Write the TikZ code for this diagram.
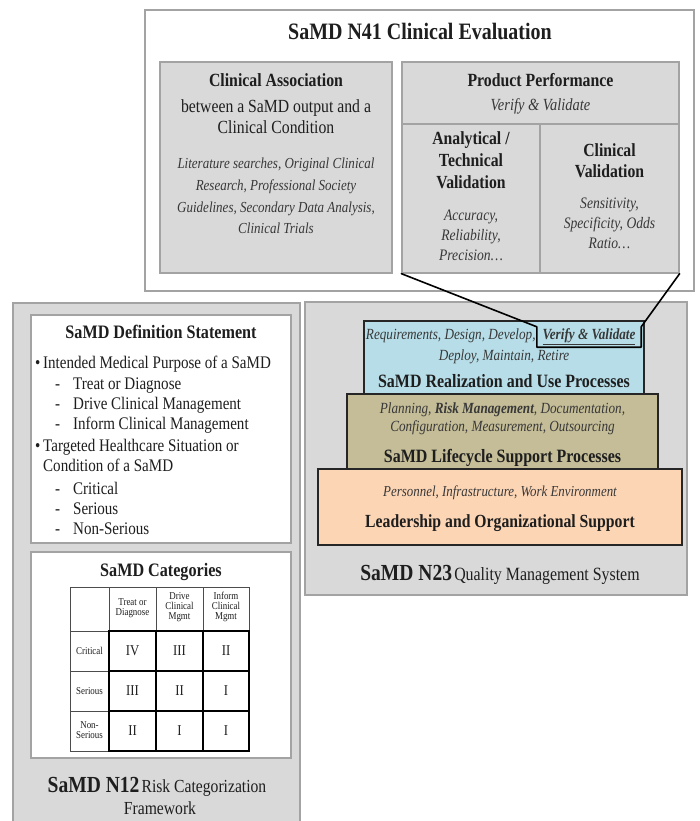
\documentclass[tikz,border=0pt]{standalone}
\usepackage{fontspec}
\setmainfont{Liberation Serif}[FakeStretch=0.85]

\definecolor{panelgray}{HTML}{D9D9D9}
\definecolor{edgegray}{HTML}{A3A3A3}
\definecolor{tierblue}{HTML}{B7DEE8}
\definecolor{tierolive}{HTML}{C4BD97}
\definecolor{tierpeach}{HTML}{FCD5B5}
\definecolor{inkdark}{HTML}{1E1E1E}
\definecolor{inkital}{HTML}{383838}

\tikzset{
  whiteframe/.style={draw=edgegray, line width=1.3pt, fill=white},
  graypanel/.style={draw=edgegray, line width=1.3pt, fill=panelgray},
  edgeline/.style={draw=edgegray, line width=1.3pt},
  tierbox/.style={draw=black!85, line width=1.1pt, inner sep=0pt},
  txt/.style={inner sep=0pt, align=center, text=inkdark},
  headtext/.style={txt, font=\fontsize{18.6}{21.5}\selectfont\bfseries},
  bodytext/.style={txt, font=\fontsize{18.5}{21}\selectfont},
  remark/.style={txt, text=inkital, font=\fontsize{15.5}{20}\selectfont\itshape},
  listline/.style={inner sep=0pt, anchor=base west, text=inkdark, font=\fontsize{17.7}{20}\selectfont},
  thingrid/.style={draw=black!70, line width=0.6pt},
  thickgrid/.style={draw=black, line width=1.7pt},
  tabcell/.style={txt, font=\fontsize{10.5}{10}\selectfont},
  numeral/.style={txt, font=\fontsize{15}{16}\selectfont},
  link/.style={draw=black, line width=1.6pt, line join=round, line cap=round},
}

\begin{document}
\begin{tikzpicture}[x=1pt,y=-1pt]
\clip (0,0) rectangle (699,821);
\fill[white] (0,0) rectangle (699,821);

% ---------- N41 Clinical Evaluation ----------
\draw[whiteframe] (145,10) rectangle (694,291);
\node[headtext, font=\fontsize{23.5}{27}\selectfont\bfseries] (n41) at (420,31) {SaMD N41 Clinical Evaluation};

\node[graypanel, inner sep=0pt, minimum width=232pt, minimum height=211pt] (assoc) at (276,167.5) {};
\node[headtext] (assoctitle) at (276,80) {Clinical Association};
\node[bodytext] (assocbody) at (276,117) {between a SaMD output and a\\Clinical Condition};
\node[remark, font=\fontsize{15.3}{21.7}\selectfont\itshape] (assocnote) at (276,196)
  {Literature searches, Original Clinical\\Research, Professional Society\\Guidelines, Secondary Data Analysis,\\Clinical Trials};

\node[graypanel, inner sep=0pt, minimum width=277pt, minimum height=211pt] (perf) at (540.5,167.5) {};
\draw[edgeline] (402,124) -- (679,124);
\draw[edgeline] (540,124) -- (540,273);
\node[headtext] (perftitle) at (540.5,80) {Product Performance};
\node[remark, font=\fontsize{17}{20}\selectfont\itshape] (perfvv) at (540.5,106) {Verify \& Validate};
\node[headtext, font=\fontsize{18.5}{21.8}\selectfont\bfseries] (analytic) at (471,160) {Analytical /\\Technical\\Validation};
\node[remark, font=\fontsize{16}{20}\selectfont\itshape] (analyticnote) at (471,235) {Accuracy,\\Reliability,\\Precision…};
\node[headtext, font=\fontsize{18.5}{21}\selectfont\bfseries] (clinval) at (609.5,160.5) {Clinical\\Validation};
\node[remark, font=\fontsize{16}{20}\selectfont\itshape] (clinvalnote) at (609.5,223) {Sensitivity,\\Specificity, Odds\\Ratio…};

% ---------- N12 Risk Categorization ----------
\draw[graypanel] (13,303) rectangle (300,835);
\draw[whiteframe] (31,315) rectangle (291,543);
\node[headtext, font=\fontsize{19}{22}\selectfont\bfseries] (deftitle) at (161,332) {SaMD Definition Statement};

\node[listline] (b1) at (35,368) {•};
\node[listline] (l1) at (43,368) {Intended Medical Purpose of a SaMD};
\node[listline] (d1) at (55,389) {-};
\node[listline] (l2) at (73,389) {Treat or Diagnose};
\node[listline] (d2) at (55,409) {-};
\node[listline] (l3) at (73,409) {Drive Clinical Management};
\node[listline] (d3) at (55,429) {-};
\node[listline] (l4) at (73,429) {Inform Clinical Management};
\node[listline] (b2) at (35,451) {•};
\node[listline] (l5) at (43,451) {Targeted Healthcare Situation or};
\node[listline] (l6) at (43,471) {Condition of a SaMD};
\node[listline] (d4) at (55,494) {-};
\node[listline] (l7) at (73,494) {Critical};
\node[listline] (d5) at (55,514) {-};
\node[listline] (l8) at (73,514) {Serious};
\node[listline] (d6) at (55,534) {-};
\node[listline] (l9) at (73,534) {Non-Serious};

\draw[whiteframe] (31,552) rectangle (291,758);
\node[headtext, font=\fontsize{19}{22}\selectfont\bfseries] (cattitle) at (161,572) {SaMD Categories};

% category table: thin header row and label column, heavy result grid
\draw[thingrid] (70,587) rectangle (249,631);
\draw[thingrid] (109,587) -- (109,631) (156,587) -- (156,631) (203,587) -- (203,631);
\draw[thingrid] (70,631) rectangle (109,751);
\draw[thingrid] (70,671) -- (109,671) (70,711) -- (109,711);
\draw[thickgrid] (109,631) rectangle (249,751);
\draw[thickgrid] (156,631) -- (156,751) (203,631) -- (203,751);
\draw[thickgrid] (109,671) -- (249,671) (109,711) -- (249,711);

\node[tabcell] (h1) at (132.5,608) {Treat or\\Diagnose};
\node[tabcell] (h2) at (179.5,607) {Drive\\Clinical\\Mgmt};
\node[tabcell] (h3) at (226,607) {Inform\\Clinical\\Mgmt};
\node[tabcell] (r1) at (89.5,651) {Critical};
\node[tabcell] (r2) at (89.5,691) {Serious};
\node[tabcell] (r3) at (89.5,730) {Non-\\Serious};
\node[numeral] (c11) at (132.5,651) {IV};
\node[numeral] (c12) at (179.5,651) {III};
\node[numeral] (c13) at (226,651) {II};
\node[numeral] (c21) at (132.5,691) {III};
\node[numeral] (c22) at (179.5,691) {II};
\node[numeral] (c23) at (226,691) {I};
\node[numeral] (c31) at (132.5,731) {II};
\node[numeral] (c32) at (179.5,731) {I};
\node[numeral] (c33) at (226,731) {I};

\node[txt] (n12a) at (157,787) {{\fontsize{23}{26}\selectfont\bfseries SaMD N12} {\fontsize{18.4}{21}\selectfont Risk Categorization}};
\node[txt, font=\fontsize{18.4}{21}\selectfont] (n12b) at (160,808) {Framework};

% ---------- N23 Quality Management System ----------
\draw[graypanel] (305,302) rectangle (687,595);
\node[tierbox, fill=tierpeach, minimum width=364pt, minimum height=76pt] (lead) at (500,507) {};
\node[tierbox, fill=tierolive, minimum width=311pt, minimum height=75pt] (life) at (502.5,431.5) {};
\node[tierbox, fill=tierblue, minimum width=280pt, minimum height=73pt] (real) at (504,357.5) {};

\node[remark, minimum width=104pt, minimum height=20pt] (vv) at (589,337) {\underline{\textbf{Verify \& Validate}}};
\node[remark, anchor=base east] (req) at ([xshift=-1pt]vv.base west) {Requirements, Design, Develop,};
\node[remark] (deploy) at (504,357) {Deploy, Maintain, Retire};
\node[headtext, font=\fontsize{18.8}{22}\selectfont\bfseries] (realtitle) at (504,381) {SaMD Realization and Use Processes};

\node[remark, font=\fontsize{15.5}{17.8}\selectfont\itshape] (lifenote) at (502.5,419) {Planning, \textbf{Risk Management}, Documentation,\\Configuration, Measurement, Outsourcing};
\node[headtext, font=\fontsize{18.8}{22}\selectfont\bfseries] (lifetitle) at (502.5,458) {SaMD Lifecycle Support Processes};

\node[remark, font=\fontsize{15.2}{18}\selectfont\itshape] (leadnote) at (500,493) {Personnel, Infrastructure, Work Environment};
\node[headtext, font=\fontsize{18.5}{22}\selectfont\bfseries] (leadtitle) at (500,523) {Leadership and Organizational Support};

\node[txt] (n23) at (500,575) {{\fontsize{23}{26}\selectfont\bfseries SaMD N23} {\fontsize{18.7}{21}\selectfont Quality Management System}};

% callout tying product performance to the verify & validate step
\draw[link] (perf.south west) -- (vv.north west) -- (vv.south west) -- (vv.south east) -- (vv.north east) -- (perf.south east);
\end{tikzpicture}
\end{document}
